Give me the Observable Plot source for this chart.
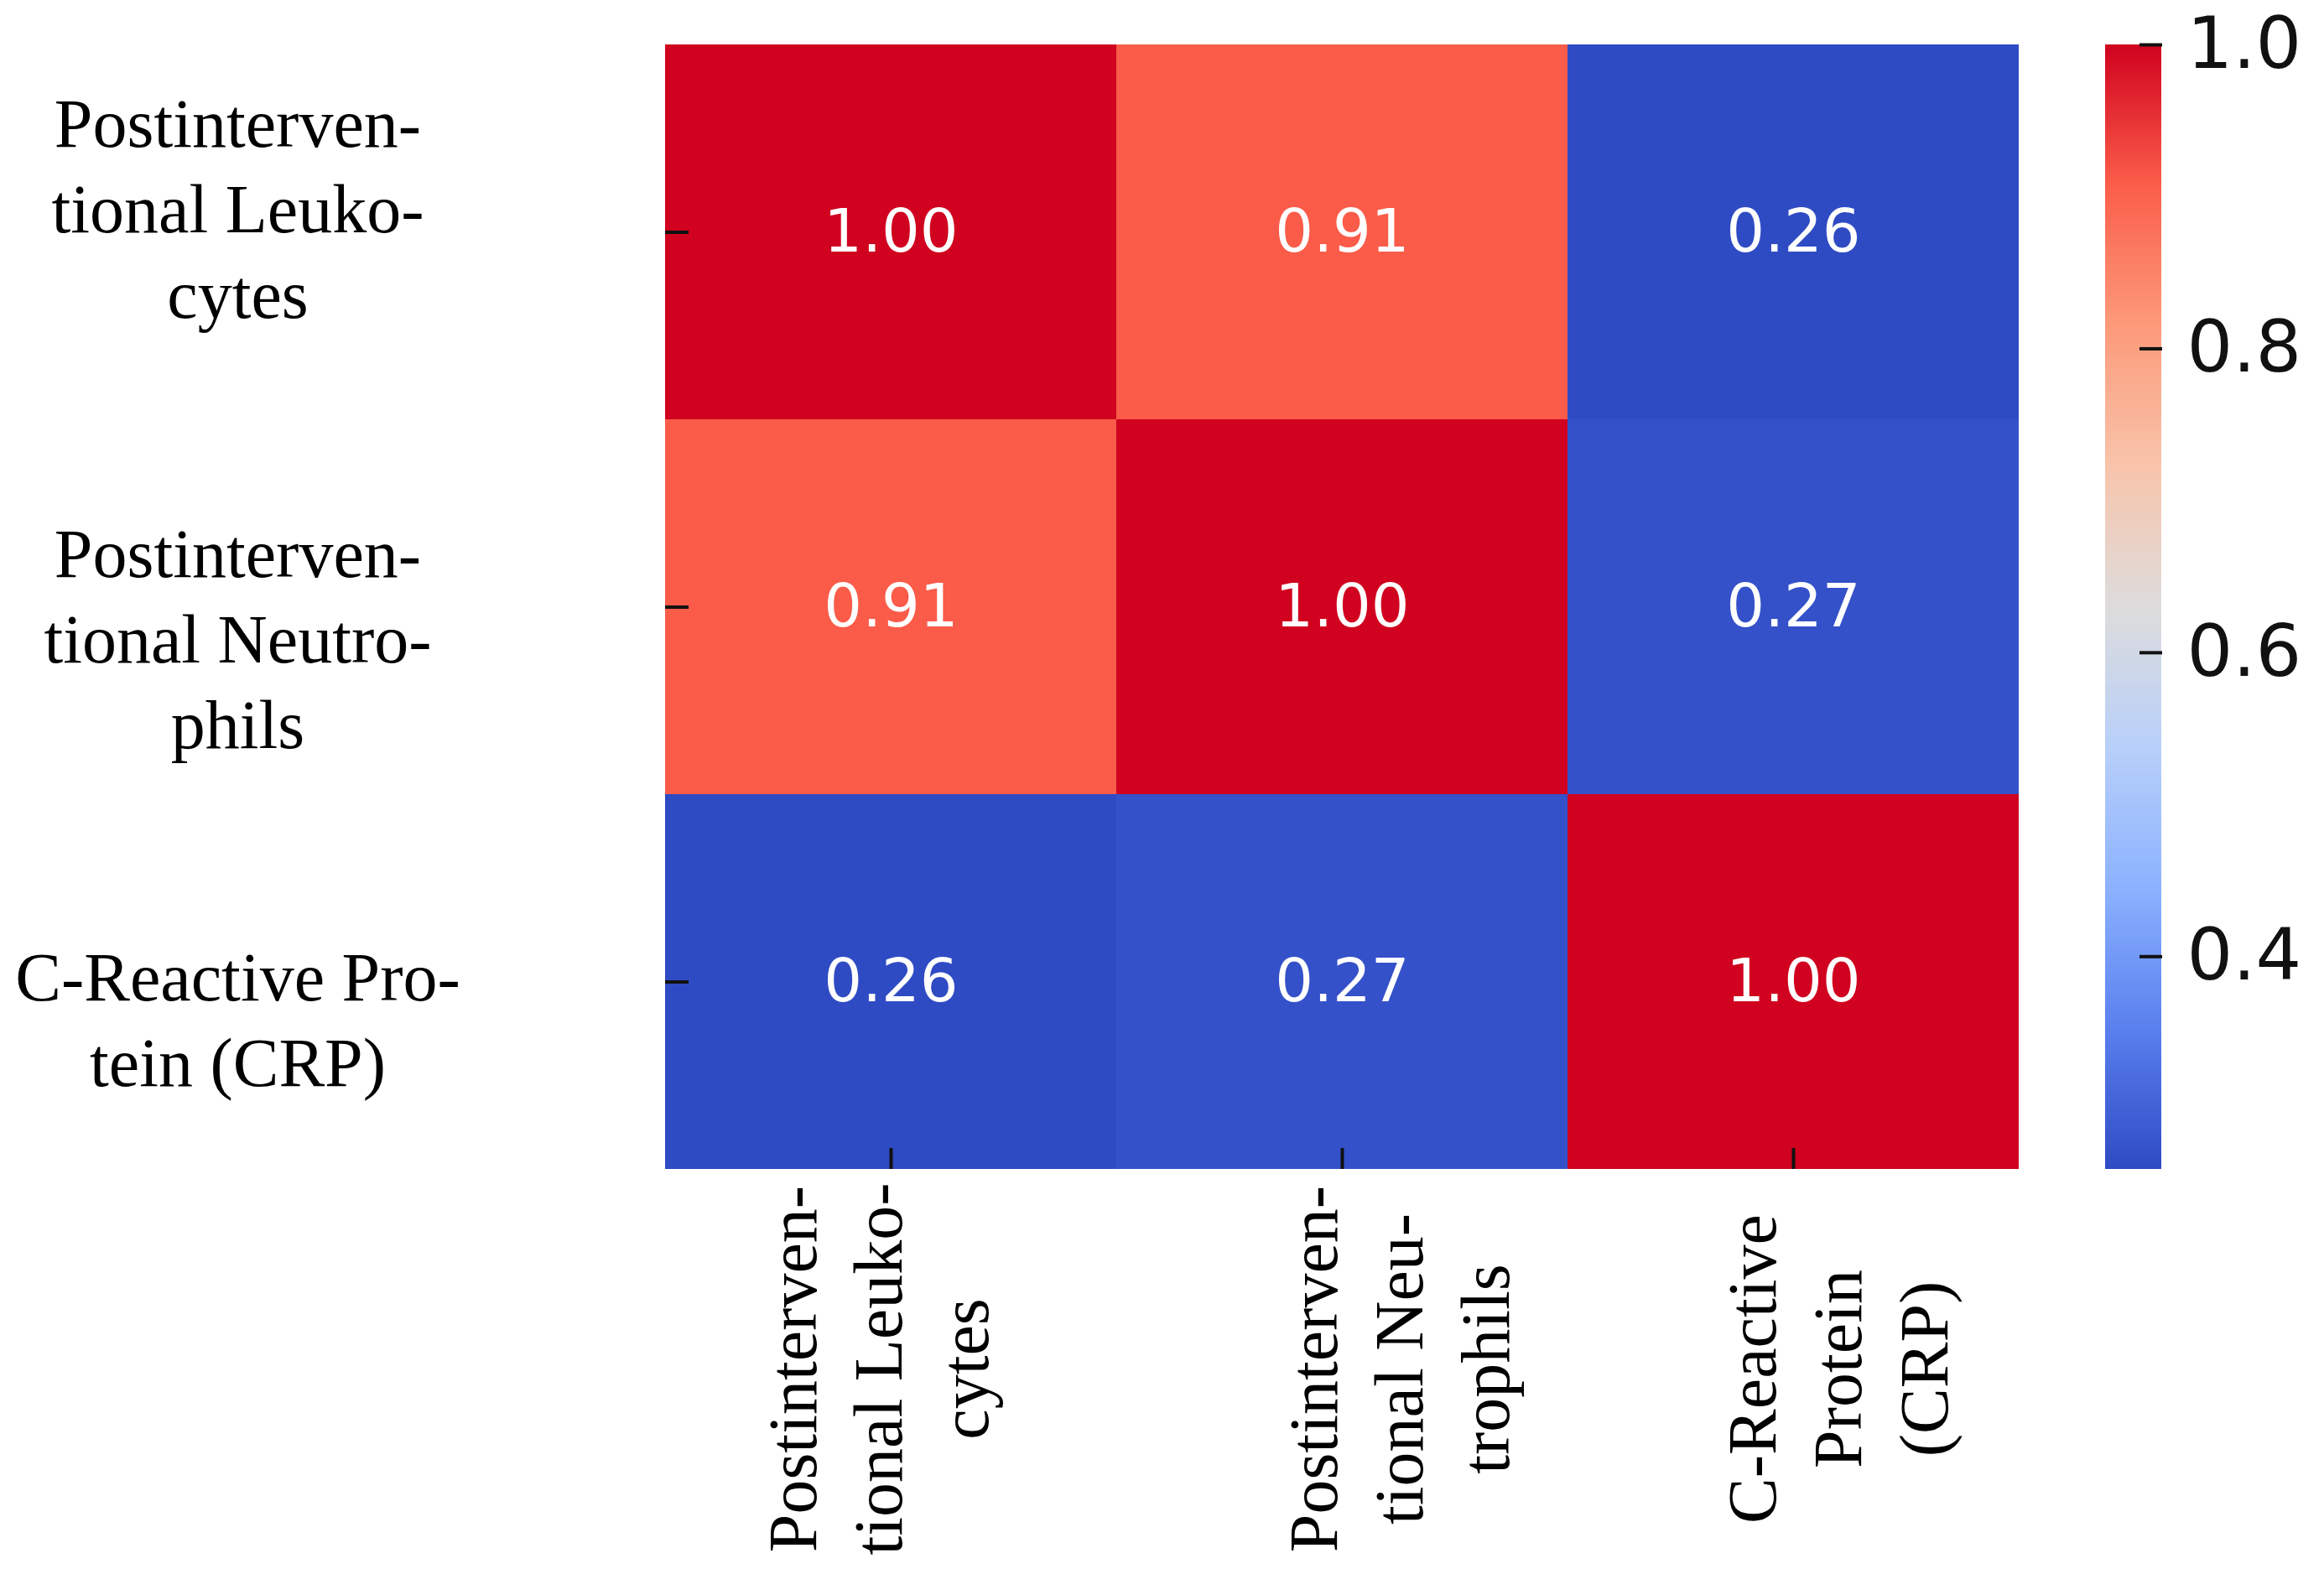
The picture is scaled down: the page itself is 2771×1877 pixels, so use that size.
<!DOCTYPE html>
<html><head><meta charset="utf-8">
<script src="https://cdn.jsdelivr.net/npm/d3@7"></script>
<script src="https://cdn.jsdelivr.net/npm/@observablehq/plot@0.6"></script>
<style>
html,body{margin:0;padding:0;background:#fff;}
#chart{position:relative;width:2771px;height:1877px;overflow:hidden;background:#fff;}
#chart svg{position:absolute;top:0;max-width:none;}
</style></head><body><div id="chart"></div>
<script>
// ---- data ----
const variables = ["Postinterventional Leukocytes", "Postinterventional Neutrophils", "C-Reactive Protein (CRP)"];
const yTickLabels = ["Postinterven-\ntional Leuko-\ncytes", "Postinterven-\ntional Neutro-\nphils", "C-Reactive Pro-\ntein (CRP)"];
const xTickLabels = ["Postinterven-\ntional Leuko-\ncytes", "Postinterven-\ntional Neu-\ntrophils", "C-Reactive\nProtein\n(CRP)"];
const correlations = [
  [1.00, 0.91, 0.26],
  [0.91, 1.00, 0.27],
  [0.26, 0.27, 1.00]
];
const colorbarTicks = [0.4, 0.6, 0.8, 1.0];
const colorStopPositions = [0, 0.125, 0.25, 0.375, 0.5, 0.625, 0.75, 0.875, 1];
const colorStopColors = ["#2f4bc4", "#5a80ee", "#8cb2ff", "#b8d0f9", "#dddcdc", "#f8c4ab", "#fc9a7a", "#fb5e4a", "#d0021f"];

// ---- build ----
const cells = [];
variables.forEach((r, i) => variables.forEach((c, j) => cells.push({row: r, col: c, value: correlations[i][j]})));
const vmin = d3.min(cells, d => d.value), vmax = d3.max(cells, d => d.value);
const colorOptions = {
  type: "linear",
  domain: colorStopPositions.map(t => vmin + t * (vmax - vmin)),
  range: colorStopColors,
  interpolate: "rgb"
};

// layout-only offsets for the wrapped tick labels
const yLabelDy = [-33, 33, 40];
const xLabelDx = [-20, 63, 48];
const serif = "Liberation Serif";
const labelSize = 82;

const main = Plot.plot({
  width: 2407, height: 1877,
  marginLeft: 793, marginRight: 0, marginTop: 53, marginBottom: 483,
  style: {background: "transparent", overflow: "visible"},
  x: {domain: variables, padding: 0},
  y: {domain: variables, padding: 0},
  color: colorOptions,
  marks: [
    Plot.cell(cells, {x: "col", y: "row", fill: "value", inset: 0}),
    Plot.text(cells, {x: "col", y: "row", text: d => d.value.toFixed(2), fill: "white", fontSize: 72, fontFamily: "DejaVu Sans"}),
    Plot.axisY({tickSize: 28, dx: 28, tickFormat: () => "", color: "#111", strokeWidth: 4, label: null}),
    Plot.axisX({anchor: "bottom", tickSize: 25, dy: -25, tickFormat: () => "", color: "#111", strokeWidth: 4, label: null}),
    ...variables.map((v, i) => Plot.text([v], {
      y: d => d, text: () => yTickLabels[i], frameAnchor: "left", dx: -510, dy: yLabelDy[i],
      textAnchor: "middle", lineAnchor: "middle", lineHeight: 1.245,
      fontSize: labelSize, fontFamily: serif, fill: "black"
    })),
    ...variables.map((v, i) => Plot.text([v], {
      x: d => d, text: () => xTickLabels[i], frameAnchor: "bottom", dx: xLabelDx[i], dy: 238, rotate: -90,
      textAnchor: "middle", lineAnchor: "middle", lineHeight: 1.255,
      fontSize: labelSize, fontFamily: serif, fill: "black"
    }))
  ]
});
main.style.left = "0px";

const nSteps = 500;
const step = (vmax - vmin) / nSteps;
const gradient = d3.range(nSteps).map(i => vmin + i * step);
const colorbar = Plot.plot({
  width: 261, height: 1877,
  marginLeft: 0, marginRight: 194, marginTop: 53, marginBottom: 483,
  style: {background: "transparent", overflow: "visible"},
  x: {axis: null},
  y: {domain: [vmin, vmax]},
  color: colorOptions,
  marks: [
    Plot.rect(gradient, {y1: d => d, y2: d => Math.min(vmax, d + step * 1.6), fill: d => d + step / 2}),
    Plot.axisY({anchor: "right", ticks: colorbarTicks, tickFormat: d3.format(".1f"), tickSize: 27, dx: -27, tickPadding: 30,
      color: "#111", strokeWidth: 4, fontSize: 86, fontFamily: "DejaVu Sans", label: null})
  ]
});
colorbar.style.left = "2510px";

const chart = document.getElementById("chart");
chart.appendChild(main);
chart.appendChild(colorbar);
</script>
</body></html>
